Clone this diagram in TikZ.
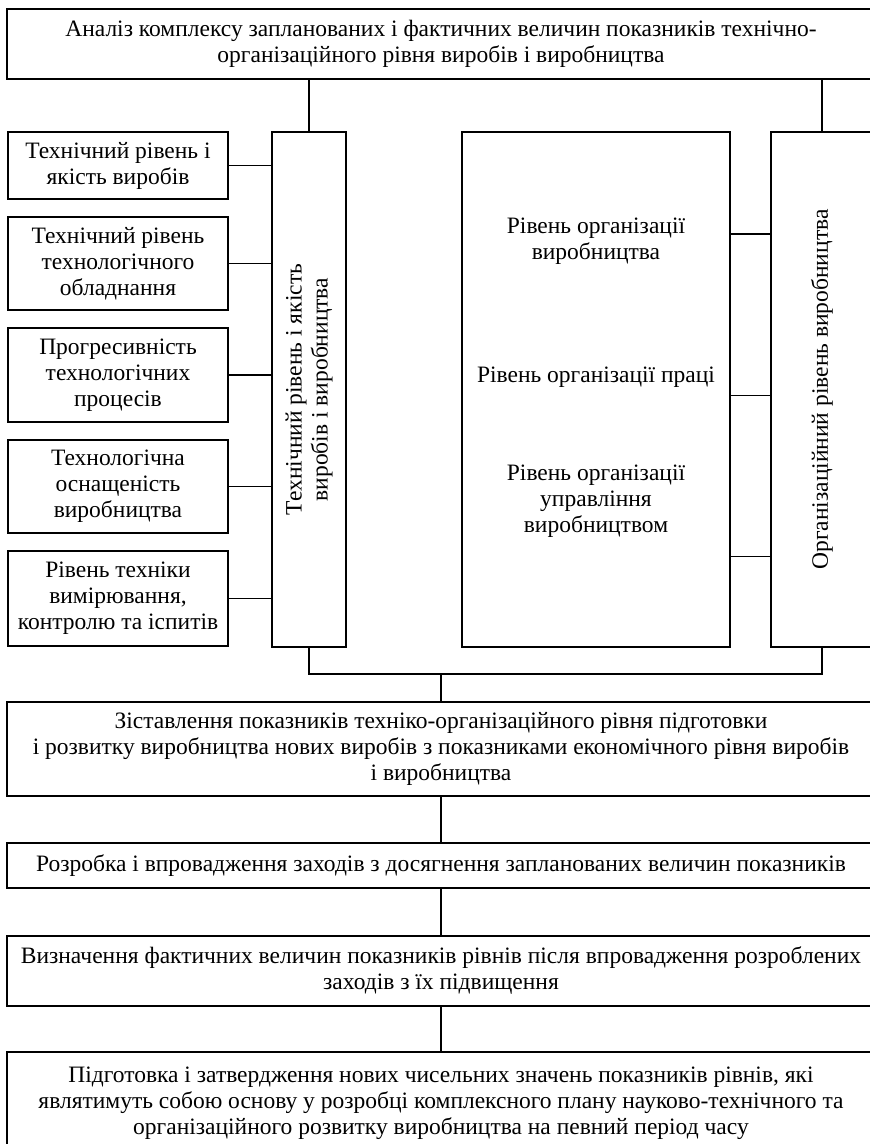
\documentclass[tikz,border=0pt]{standalone}
\usepackage{fontspec}
\setmainfont{Liberation Serif}
\usetikzlibrary{calc}

\begin{document}
\begin{tikzpicture}[x=1pt,y=-1pt,line width=1.2pt,
    box/.style={draw,rectangle,align=center,inner sep=2pt,outer sep=0pt,
      font=\fontsize{23.5}{26}\selectfont},
    txt/.style={align=center,inner sep=0pt,font=\fontsize{23.5}{26}\selectfont}]
  \useasboundingbox (0,0) rectangle (870,1144);
  \clip (0,0) rectangle (870,1144);

  % top box
  \node[box,minimum width=868pt,minimum height=70pt] (analysis) at (441,44)
    {Аналіз комплексу запланованих і фактичних величин показників технічно-\\організаційного рівня виробів і виробництва};

  % technical level column
  \node[box,minimum width=74pt,minimum height=515pt] (tech) at (309,389.5) {};
  \node[txt,rotate=90] (techtext) at (tech) {Технічний рівень і якість\\виробів і виробництва};
  \draw (analysis.south -| tech.north) -- (tech.north);

  % left boxes
  \foreach \y/\h/\name/\lbl in {165.5/67pt/quality/{Технічний рівень і\\якість виробів},
      263.5/93pt/equip/{Технічний рівень\\технологічного\\обладнання},
      375/94pt/process/{Прогресивність\\технологічних\\процесів},
      486.5/93pt/tooling/{Технологічна\\оснащеність\\виробництва},
      598.5/95pt/measure/{Рівень техніки\\вимірювання,\\контролю та іспитів}} {
    \node[box,minimum width=220pt,minimum height=\h] (\name) at (118,\y) {\lbl};
    \draw (\name.east) -- (\name.east -| tech.west);
  }

  % organisational level column
  \node[box,minimum width=268pt,minimum height=515pt] (orgbox) at (596,389.5) {};
  \node[box,minimum width=102pt,minimum height=515pt] (org) at (822,389.5) {};
  \node[txt,rotate=90] (orgtext) at (org) {Організаційний рівень виробництва};
  \node[txt] (orgprod) at (596,241) {Рівень організації\\виробництва};
  \node[txt] (orglabour) at (596,377) {Рівень організації праці};
  \node[txt] (orgmgmt) at (596,501) {Рівень організації\\управління\\виробництвом};
  \draw (analysis.south -| org.north) -- (org.north);
  \foreach \f in {0.198,0.511,0.825}
    \draw ($(orgbox.north east)!\f!(orgbox.south east)$) -- ($(org.north west)!\f!(org.south west)$);

  % joining both columns
  \coordinate (bus) at (441,674);
  \draw (tech.south) |- (bus) -| (org.south);

  % lower chain
  \node[box,minimum width=868pt,minimum height=94pt] (compare) at (441,749)
    {Зіставлення показників техніко-організаційного рівня підготовки\\і розвитку виробництва нових виробів з показниками економічного рівня виробів\\і виробництва};
  \node[box,minimum width=868pt,minimum height=45pt] (measures) at (441,865.5)
    {Розробка і впровадження заходів з досягнення запланованих величин показників};
  \node[box,minimum width=868pt,minimum height=70pt] (actual) at (441,971)
    {Визначення фактичних величин показників рівнів після впровадження розроблених\\заходів з їх підвищення};
  \node[box,minimum width=868pt,minimum height=102pt] (approval) at (441,1103)
    {Підготовка і затвердження нових чисельних значень показників рівнів, які\\являтимуть собою основу у розробці комплексного плану науково-технічного та\\організаційного розвитку виробництва на певний період часу};
  \draw (bus) -- (compare.north);
  \foreach \a/\b in {compare/measures,measures/actual,actual/approval}
    \draw (\a) -- (\b);

\end{tikzpicture}
\end{document}
